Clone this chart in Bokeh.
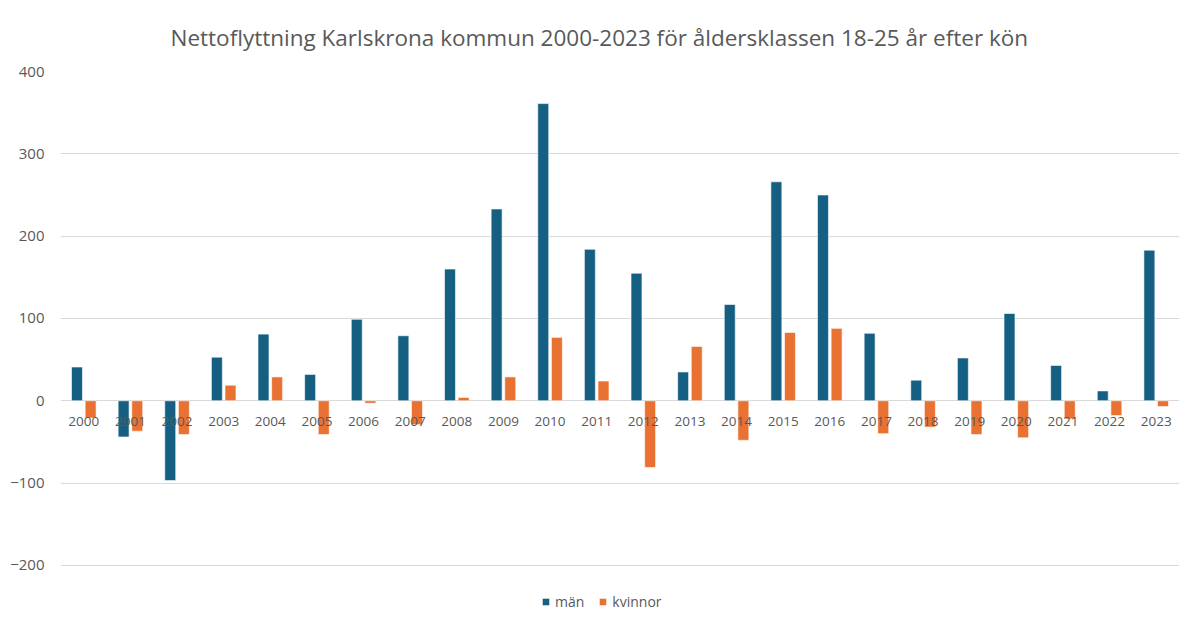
from bokeh.plotting import figure
from bokeh.models import Range1d, FixedTicker, Legend, LegendItem
from bokeh.transform import dodge
from bokeh.models import ColumnDataSource
from bokeh.embed import file_html
from bokeh.resources import INLINE

years = list(range(2000, 2024))
man = [41, -44, -97, 53, 81, 32, 99, 79, 160, 233, 361, 184, 155, 35, 117, 266, 250, 82, 25, 52, 106, 43, 12, 183]
kvinnor = [-21, -37, -41, 19, 29, -41, -3, -29, 4, 29, 77, 24, -81, 66, -48, 83, 88, -40, -32, -41, -45, -22, -18, -7]
y_ticks = [-200, -100, 0, 100, 200, 300, 400]
title_text = "Nettoflyttning Karlskrona kommun 2000-2023 för åldersklassen 18-25 år efter kön"

TEXT = "#595959"
BLUE = "#156082"
ORANGE = "#E97132"
FONT = "Open Sans"

src = ColumnDataSource(dict(year=years, man=man, kvinnor=kvinnor))

p = figure(width=1190, height=625, output_backend="svg", toolbar_location=None,
           x_range=Range1d(1999.5, 2023.5), y_range=Range1d(-273, 400),
           min_border_left=60, min_border_right=11, min_border_top=71, min_border_bottom=0,
           outline_line_color=None)

p.title.text = title_text
p.title.align = "left"
p.title.offset = 110
p.title.text_font = FONT
p.title.text_font_style = "normal"
p.title.text_font_size = "22.5px"
p.title.text_color = TEXT
p.title.standoff = 38

r1 = p.vbar(x=dodge("year", -0.146, range=p.x_range), top="man", width=0.235, source=src,
            fill_color=BLUE, line_color="white", line_width=0.6)
r2 = p.vbar(x=dodge("year", 0.146, range=p.x_range), top="kvinnor", width=0.235, source=src,
            fill_color=ORANGE, line_color="white", line_width=0.6)

p.ygrid.ticker = FixedTicker(ticks=y_ticks)
p.ygrid.grid_line_color = "#D9D9D9"
p.ygrid.grid_line_width = 1.2
p.xgrid.grid_line_color = None

p.yaxis.ticker = FixedTicker(ticks=y_ticks)
p.yaxis.axis_line_color = None
p.yaxis.major_tick_line_color = None
p.yaxis.minor_tick_line_color = None
p.yaxis.major_label_text_font = FONT
p.yaxis.major_label_text_font_size = "15px"
p.yaxis.major_label_text_color = TEXT
p.yaxis.major_label_standoff = 10

p.xaxis.ticker = FixedTicker(ticks=years)
p.xaxis.fixed_location = 0
p.xaxis.axis_line_color = None
p.xaxis.major_tick_line_color = None
p.xaxis.minor_tick_line_color = None
p.xaxis.major_label_text_font = FONT
p.xaxis.major_label_text_font_size = "13.5px"
p.xaxis.major_label_text_color = TEXT
p.xaxis.major_label_standoff = 10

legend = Legend(items=[LegendItem(label="män", renderers=[r1]),
                       LegendItem(label="kvinnor", renderers=[r2])],
                orientation="horizontal", location=(481, 14),
                border_line_color=None, background_fill_alpha=0,
                label_text_font=FONT, label_text_font_size="14px", label_text_color=TEXT,
                glyph_width=9, glyph_height=9, spacing=14, label_standoff=5,
                padding=0, margin=0)
p.add_layout(legend)

open("out.html", "w").write(file_html(p, INLINE))
